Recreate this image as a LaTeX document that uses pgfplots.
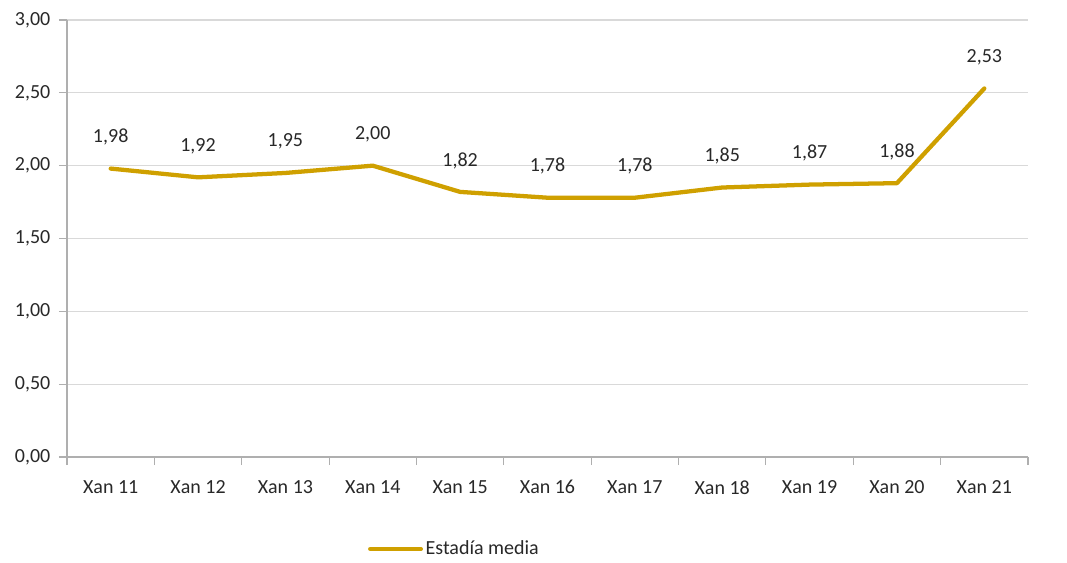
\documentclass[border=0pt]{standalone}
\usepackage{pgfplots}
\pgfplotsset{compat=1.18}
\usepackage{fontspec}
\setmainfont{Carlito}
\definecolor{gold}{RGB}{207,160,0}
\definecolor{gridgray}{RGB}{217,217,217}
\definecolor{axgray}{RGB}{175,175,175}
\definecolor{txt}{RGB}{40,40,40}
\begin{document}
\begin{tikzpicture}
\begin{axis}[
  at={(0,0)}, anchor=south west,
  scale only axis,
  width=720.75pt, height=327.75pt,
  xmin=-0.5, xmax=10.5,
  ymin=0, ymax=3,
  ytick={0,0.5,...,3},
  xtick={0,...,10},
  xticklabels={Xan 11,Xan 12,Xan 13,Xan 14,Xan 15,Xan 16,Xan 17,Xan 18,Xan 19,Xan 20,Xan 21},
  minor xtick={-0.5,0.5,...,10.5},
  major x tick style={draw=none},
  minor x tick style={axgray, line width=0.8pt},
  minor tick length=6pt,
  y tick style={axgray, line width=0.8pt},
  major tick length=6pt,
  tick align=outside,
  axis x line*=bottom,
  axis y line*=left,
  axis line style={axgray, line width=0.8pt, -},
  ymajorgrids,
  grid style={gridgray, line width=0.8pt},
  tick label style={font=\fontsize{15}{18}\selectfont, text=txt},
  xticklabel style={yshift=-8pt},
  yticklabel style={xshift=-3pt},
  /pgf/number format/.cd, fixed, fixed zerofill, precision=2, use comma, assume math mode=true,
  /pgfplots/.cd,
  legend style={at={(0.313,-0.2105)}, anchor=west, draw=none, inner sep=0pt, font=\fontsize{15}{18}\selectfont, text=txt},
  legend image code/.code={\draw[#1, line width=3.2pt, line cap=round] (0pt,0pt) -- (38pt,0pt);},
  legend cell align=left,
  clip=false,
]
\addplot[gold, line width=3.2pt, line join=round, line cap=round,
  nodes near coords,
  every node near coord/.append style={anchor=center, yshift=23.5pt, font=\fontsize{15}{18}\selectfont, text=txt},
] coordinates {
  (0,1.98) (1,1.92) (2,1.95) (3,2.00) (4,1.82) (5,1.78) (6,1.78) (7,1.85) (8,1.87) (9,1.88) (10,2.53)
};
\addlegendentry{Estadía media}
\end{axis}
\pgfresetboundingbox
\path[use as bounding box] (-50.25pt,-78.75pt) rectangle (750pt,342.75pt);
\end{tikzpicture}
\end{document}
